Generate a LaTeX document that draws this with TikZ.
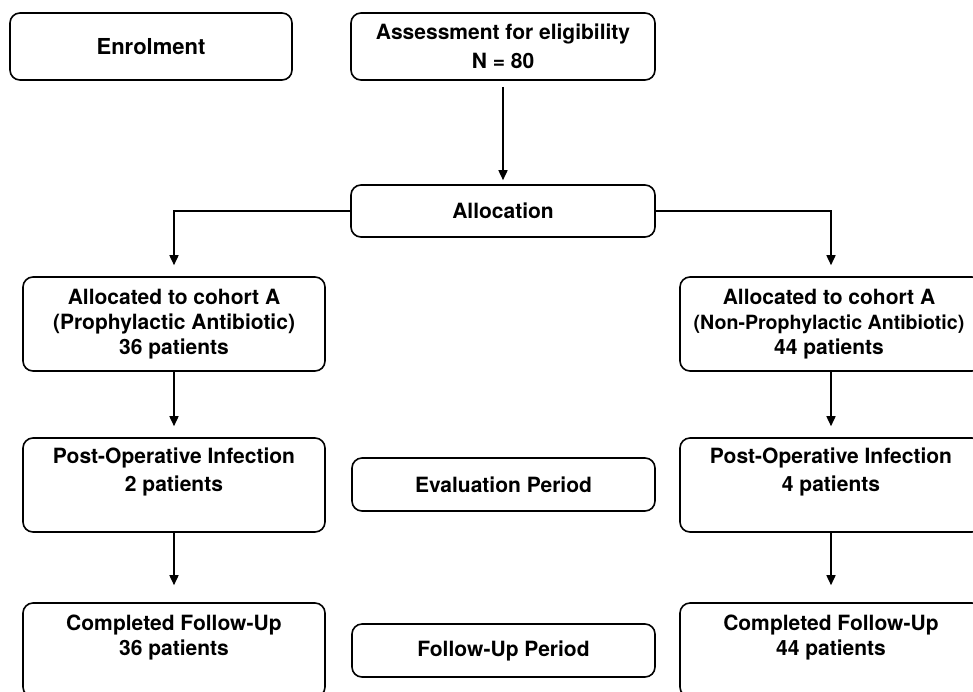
\documentclass[tikz,border=0pt]{standalone}
\usepackage{fontspec}
\setmainfont{TeX Gyre Heros}
\usetikzlibrary{arrows.meta,calc}
\newcommand{\fs}{\fontsize{21}{26}\selectfont\bfseries}
\tikzset{
  box/.style={draw, line width=1.6pt, rounded corners=10pt, inner sep=0pt,
    align=center, font=\fs},
  wbox/.style={box, minimum width=302pt, minimum height=94pt},
  mbox/.style={box, minimum width=303pt},
  txt/.style={inner sep=0pt, align=center, font=\fs},
  arr/.style={-{Triangle[length=10pt,width=9pt]}, line width=1.6pt},
}
\begin{document}
\begin{tikzpicture}[x=1pt,y=-1pt]
\clip (0,0) rectangle (973,691);
\fill[white] (0,0) rectangle (973,691);

\node[box, minimum width=282pt, minimum height=67pt, font=\fontsize{22}{26}\selectfont\bfseries] (enrol) at (151,46.5) {Enrolment};
\node[box, minimum width=304pt, minimum height=67pt, font=\fontsize{21}{29}\selectfont\bfseries] (assess) at (503,46.5) {Assessment for eligibility\\N = 80};
\node[box, minimum width=304pt, minimum height=52pt] (alloc) at (503,211) {Allocation};

\node[wbox, font=\fontsize{21}{25}\selectfont\bfseries] (coh1) at (174,324) {Allocated to cohort A\\(Prophylactic Antibiotic)\\36 patients};
\node[wbox] (coh2) at (831,324) {};
\node[txt, font=\fontsize{21}{25}\selectfont\bfseries] (coh2t) at (829,324) {Allocated to cohort A\\{\fontsize{19.6}{25}\selectfont (Non-Prophylactic Antibiotic)}\\44 patients};

\node[wbox] (po1) at (174,485) {};
\node[txt, font=\fontsize{21}{28}\selectfont\bfseries] (po1t) at (174,472) {Post-Operative Infection\\2 patients};
\node[wbox] (po2) at (831,485) {};
\node[txt, font=\fontsize{21}{28}\selectfont\bfseries] (po2t) at (831,472) {Post-Operative Infection\\4 patients};
\node[mbox, minimum height=53pt] (eval) at (503.5,484.5) {Evaluation Period};

\node[wbox] (comp1) at (174,650) {};
\node[txt, font=\fontsize{21}{25}\selectfont\bfseries] (comp1t) at (174,637.5) {Completed Follow-Up\\36 patients};
\node[wbox] (comp2) at (831,650) {};
\node[txt, font=\fontsize{21}{25}\selectfont\bfseries] (comp2t) at (831,637.5) {Completed Follow-Up\\44 patients};
\node[mbox, minimum height=53pt] (fup) at (503.5,650.5) {Follow-Up Period};

\draw[arr, shorten <=6pt, shorten >=4pt] (assess.south) -- (alloc.north);
\draw[arr, shorten >=11pt] (alloc.west) -| (coh1.north);
\draw[arr, shorten >=11pt] (alloc.east) -| (coh2.north);
\draw[arr, shorten >=11pt] (coh1.south) -- (po1.north);
\draw[arr, shorten >=11pt] (coh2.south) -- (po2.north);
\draw[arr, shorten >=17pt] (po1.south) -- (comp1.north);
\draw[arr, shorten >=17pt] (po2.south) -- (comp2.north);
\end{tikzpicture}
\end{document}
